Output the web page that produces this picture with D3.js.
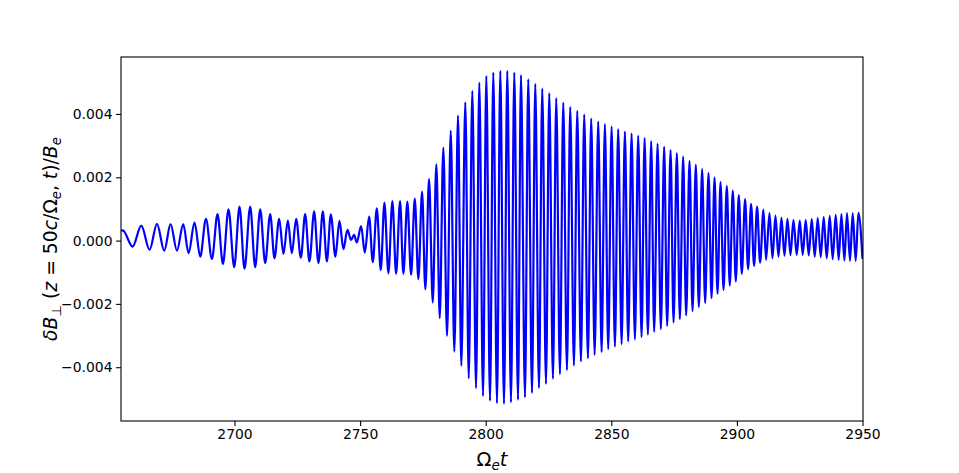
<!DOCTYPE html>
<html>
<head>
<meta charset="utf-8">
<script src="https://cdn.jsdelivr.net/npm/d3@7"></script>
<style>
  body { margin: 0; background: #fff; }
  text { font-family: "DejaVu Sans", sans-serif; fill: #000; }
  .tick text { font-size: 13.9px; }
  .axistitle { font-size: 19.4px; }
</style>
</head>
<body>
<div id="chart"></div>
<script>

// Extrema of the signal (time, value), start and end included.
const times = [
	2654.81, 2655.53, 2659.43, 2662.89, 2666.19, 2669.13, 2672.04, 2674.54, 2677.09, 2679.59,
	2681.70, 2684.09, 2686.36, 2688.62, 2691.01, 2693.24, 2695.39, 2697.61, 2699.88, 2701.99,
	2703.98, 2706.25, 2708.23, 2710.22, 2712.21, 2714.20, 2715.91, 2717.78, 2719.49, 2721.24,
	2722.83, 2724.54, 2726.41, 2728.12, 2729.83, 2731.70, 2733.41, 2735.16, 2736.75, 2738.34,
	2740.17, 2741.77, 2743.36, 2744.95, 2746.42, 2747.61, 2748.69, 2750.40, 2751.87, 2753.58,
	2755.05, 2756.64, 2758.23, 2759.67, 2761.26, 2762.85, 2764.32, 2765.91, 2767.22, 2768.81,
	2770.29, 2771.76, 2773.19, 2774.66, 2775.97, 2777.45, 2778.92, 2780.35, 2781.70, 2783.13,
	2784.61, 2786.08, 2787.51, 2788.98, 2790.29, 2791.88, 2793.24, 2794.67, 2796.14, 2797.45,
	2798.93, 2800.24, 2801.71, 2803.02, 2804.49, 2805.81, 2807.28, 2808.59, 2810.06, 2811.38,
	2812.85, 2814.04, 2815.63, 2816.94, 2818.42, 2819.73, 2821.20, 2822.51, 2823.99, 2825.30,
	2826.77, 2828.08, 2829.55, 2830.87, 2832.34, 2833.65, 2835.12, 2836.44, 2837.91, 2839.22,
	2840.69, 2842.00, 2843.36, 2844.79, 2846.14, 2847.45, 2848.77, 2850.12, 2851.43, 2852.74,
	2854.10, 2855.41, 2856.72, 2858.07, 2859.39, 2860.70, 2862.05, 2863.25, 2864.56, 2865.87,
	2867.06, 2868.42, 2869.73, 2871.04, 2872.23, 2873.59, 2874.78, 2876.09, 2877.29, 2878.60,
	2879.79, 2881.14, 2882.34, 2883.65, 2884.84, 2886.16, 2887.35, 2888.70, 2889.90, 2891.09,
	2892.28, 2893.48, 2894.67, 2895.98, 2897.17, 2898.37, 2899.56, 2900.75, 2901.95, 2903.26,
	2904.45, 2905.65, 2906.84, 2908.03, 2909.23, 2910.58, 2911.61, 2912.97, 2914.16, 2915.35,
	2916.55, 2917.74, 2918.93, 2920.13, 2921.32, 2922.51, 2923.83, 2925.02, 2926.21, 2927.40,
	2928.60, 2929.79, 2930.98, 2932.18, 2933.37, 2934.56, 2935.76, 2936.95, 2938.14, 2939.34,
	2940.53, 2941.60, 2942.80, 2943.83, 2945.03, 2946.10, 2947.29, 2948.37, 2950.00
];

const dB = [
	0.00031, 0.00032, -0.00019, 0.00047, -0.00029, 0.00053, -0.00032, 0.00052, -0.00032, 0.00052,
	-0.00040, 0.00057, -0.00051, 0.00069, -0.00058, 0.00084, -0.00074, 0.00099, -0.00084, 0.00107,
	-0.00089, 0.00107, -0.00084, 0.00099, -0.00071, 0.00084, -0.00056, 0.00069, -0.00042, 0.00063,
	-0.00040, 0.00069, -0.00054, 0.00084, -0.00066, 0.00092, -0.00071, 0.00092, -0.00066, 0.00083,
	-0.00051, 0.00062, -0.00027, 0.00034, 0.00002, 0.00018, -0.00006, 0.00046, -0.00038, 0.00076,
	-0.00068, 0.00102, -0.00093, 0.00120, -0.00103, 0.00125, -0.00105, 0.00125, -0.00105, 0.00123,
	-0.00108, 0.00133, -0.00122, 0.00155, -0.00154, 0.00194, -0.00196, 0.00241, -0.00245, 0.00294,
	-0.00301, 0.00347, -0.00351, 0.00395, -0.00396, 0.00437, -0.00435, 0.00473, -0.00466, 0.00499,
	-0.00491, 0.00520, -0.00506, 0.00531, -0.00514, 0.00536, -0.00516, 0.00536, -0.00511, 0.00531,
	-0.00503, 0.00523, -0.00495, 0.00510, -0.00482, 0.00495, -0.00466, 0.00480, -0.00453, 0.00466,
	-0.00437, 0.00450, -0.00422, 0.00436, -0.00409, 0.00422, -0.00395, 0.00410, -0.00382, 0.00398,
	-0.00372, 0.00385, -0.00361, 0.00376, -0.00352, 0.00368, -0.00343, 0.00360, -0.00335, 0.00352,
	-0.00327, 0.00344, -0.00319, 0.00338, -0.00312, 0.00331, -0.00305, 0.00324, -0.00297, 0.00314,
	-0.00288, 0.00306, -0.00280, 0.00296, -0.00270, 0.00286, -0.00259, 0.00276, -0.00248, 0.00265,
	-0.00236, 0.00252, -0.00223, 0.00239, -0.00210, 0.00226, -0.00197, 0.00213, -0.00182, 0.00199,
	-0.00168, 0.00185, -0.00156, 0.00172, -0.00142, 0.00158, -0.00129, 0.00144, -0.00105, 0.00131,
	-0.00090, 0.00116, -0.00080, 0.00107, -0.00070, 0.00097, -0.00061, 0.00087, -0.00056, 0.00079,
	-0.00051, 0.00072, -0.00048, 0.00069, -0.00046, 0.00065, -0.00045, 0.00063, -0.00045, 0.00065,
	-0.00047, 0.00068, -0.00051, 0.00071, -0.00052, 0.00074, -0.00056, 0.00078, -0.00059, 0.00081,
	-0.00061, 0.00084, -0.00063, 0.00087, -0.00064, 0.00087, -0.00064, 0.00088, -0.00058
];

// Axis ticks.
const xTicks = [2700, 2750, 2800, 2850, 2900, 2950];
const yTicks = [-0.004, -0.002, 0, 0.002, 0.004];


// Dimensions of chart.
let margin = { top: 57, right: 96, bottom: 52, left: 121 },
	width = 959 - margin.left - margin.right,
	height = 473 - margin.top - margin.bottom;

let svg = d3.select("#chart").append("svg")
	.attr("width", 959)
	.attr("height", 473);

let g = svg.append("g")
	.attr("transform", "translate(" + margin.left + "," + margin.top + ")");


// Scales
let x = d3.scaleLinear()
	.domain([2654.81, 2950.2])
	.range([0, width]);

let y = d3.scaleLinear()
	.domain([-0.0057, 0.0058])
	.range([height, 0]);


// Clip the line to the axes box.
g.append("clipPath")
	.attr("id", "clip")
	.append("rect")
	.attr("width", width)
	.attr("height", height);


// The signal: smooth curve through the extrema.
let points = times.map((t, i) => [t, dB[i]]);

let line = d3.line()
	.x(d => x(d[0]))
	.y(d => y(d[1]))
	.curve(d3.curveMonotoneX);

g.append("path")
	.datum(points)
	.attr("clip-path", "url(#clip)")
	.attr("fill", "none")
	.attr("stroke", "#0000ff")
	.attr("stroke-width", 2.2)
	.attr("stroke-linejoin", "round")
	.attr("d", line);


// x-axis
let xAxis = d3.axisBottom(x)
	.tickValues(xTicks)
	.tickFormat(d3.format("d"))
	.tickSize(4.9)
	.tickPadding(3.6);
g.append("g")
	.attr("transform", "translate(0," + height + ")")
	.call(xAxis)
	.call(a => a.select(".domain").remove());

// y-axis
let yAxis = d3.axisLeft(y)
	.tickValues(yTicks)
	.tickFormat(d3.format(".3f"))
	.tickSize(4.9)
	.tickPadding(3.6);
g.append("g")
	.call(yAxis)
	.call(a => a.select(".domain").remove());

g.selectAll(".tick line").attr("stroke", "#000").attr("stroke-width", 1.1);
g.selectAll(".tick text").attr("fill", "#000").style("font-size", "13.9px");


// Frame
g.append("rect")
	.attr("width", width)
	.attr("height", height)
	.attr("fill", "none")
	.attr("stroke", "#000")
	.attr("stroke-width", 1.1);


// Axis titles
let xt = g.append("text")
	.attr("class", "axistitle")
	.attr("x", width / 2)
	.attr("y", height + 45)
	.attr("text-anchor", "middle");
xt.append("tspan").text("Ω");
xt.append("tspan").attr("font-style", "italic").attr("font-size", "13.6px").attr("dy", 4).text("e");
xt.append("tspan").attr("font-style", "italic").attr("dy", -4).text("t");

let yt = svg.append("text")
	.attr("class", "axistitle")
	.attr("transform", "translate(57," + (margin.top + height / 2) + ") rotate(-90)")
	.attr("text-anchor", "middle")
	.style("font-size", "18.8px");

// pieces of the y label: [text, italic, subscript]
const ylabelParts = [
	["δB", true, false], ["⊥", false, true], [" (", false, false], ["z", true, false],
	[" = 50", false, false], ["c", true, false], ["/Ω", false, false], ["e", true, true],
	[", ", false, false], ["t", true, false], [")/", false, false], ["B", true, false],
	["e", true, true]
];
let sub = false;
ylabelParts.forEach(p => {
	let dy = 0;
	if (p[2] && !sub) dy = 4;
	if (!p[2] && sub) dy = -4;
	sub = p[2];
	yt.append("tspan")
		.attr("dy", dy)
		.attr("font-style", p[1] ? "italic" : "normal")
		.attr("font-size", p[2] ? "13.2px" : null)
		.text(p[0]);
});

</script>
</body>
</html>
